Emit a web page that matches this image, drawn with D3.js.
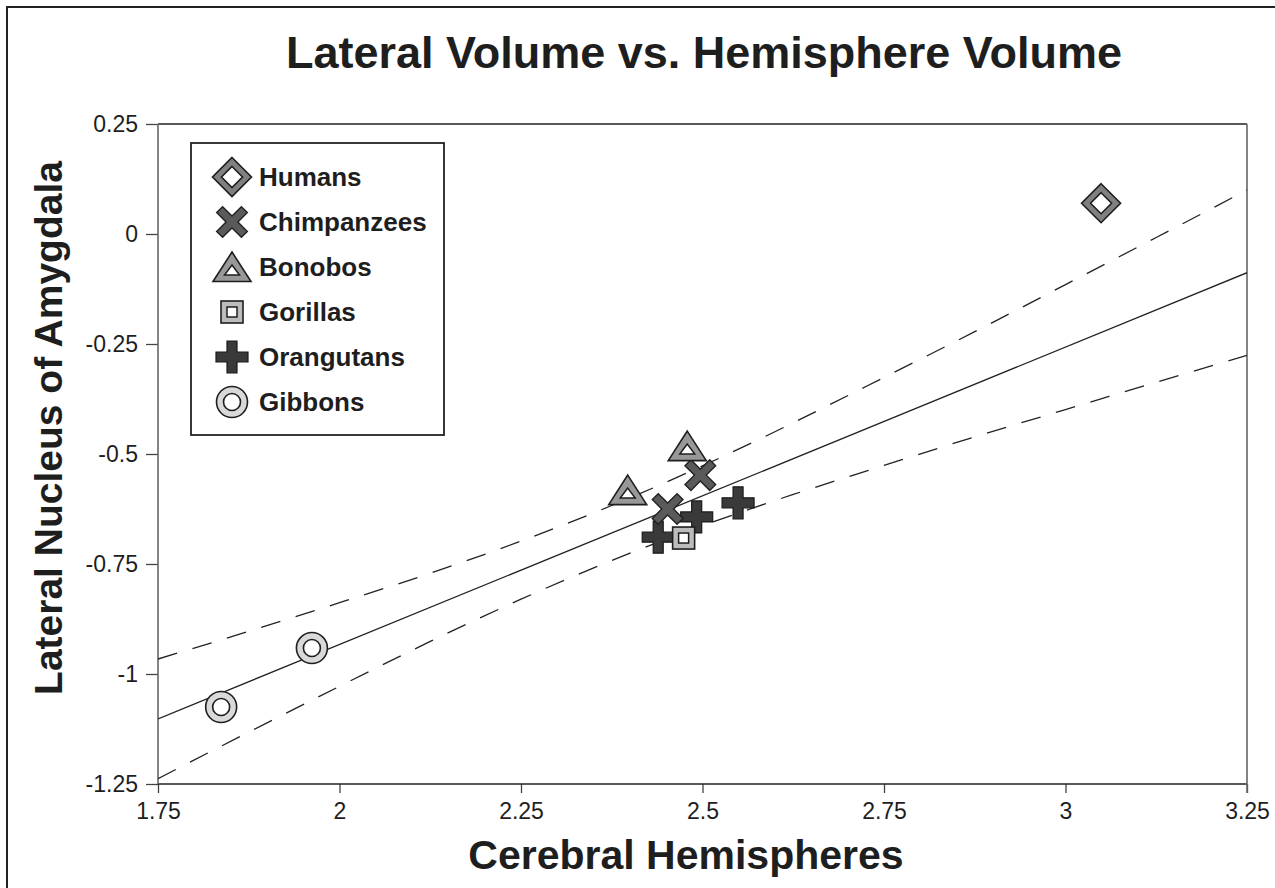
<!DOCTYPE html>
<html>
<head>
<meta charset="utf-8">
<script src="https://cdn.jsdelivr.net/npm/d3@7"></script>
<style>
  html, body { margin: 0; padding: 0; background: #fff; }
  svg { display: block; }
  text { font-family: "Liberation Sans", Arial, Helvetica, sans-serif; fill: #1e1e1e; }
</style>
</head>
<body>
<svg id="chart" width="1275" height="888"></svg>
<script>
// Species means: [cerebral hemispheres, lateral nucleus] (log volumes)
const humans      = [[3.049, 0.070]];
const chimpanzees = [[2.497, -0.548], [2.452, -0.625]];
const bonobos     = [[2.479, -0.482], [2.397, -0.582]];
const gorillas    = [[2.474, -0.691]];
const orangutans  = [[2.439, -0.689], [2.492, -0.643], [2.549, -0.611]];
const gibbons     = [[1.837, -1.075], [1.962, -0.941]];

// Fitted regression line (endpoints at the axis limits)
const fitX = [1.75, 3.25];
const fitY = [-1.102, -0.088];

// 95% confidence band around the fit
const bandX     = [1.75, 1.875, 2.0, 2.125, 2.25, 2.375, 2.5, 2.625, 2.75, 2.875, 3.0, 3.125, 3.25];
const bandUpper = [-0.966, -0.903, -0.838, -0.771, -0.698, -0.617, -0.527, -0.429, -0.326, -0.222, -0.115, -0.008, 0.100];
const bandLower = [-1.238, -1.132, -1.028, -0.926, -0.830, -0.742, -0.663, -0.592, -0.526, -0.461, -0.399, -0.337, -0.276];

const xTicks = [1.75, 2, 2.25, 2.5, 2.75, 3, 3.25];
const yTicks = [0.25, 0, -0.25, -0.5, -0.75, -1, -1.25];

const legendNames = ["Humans", "Chimpanzees", "Bonobos", "Gorillas", "Orangutans", "Gibbons"];

const svg = d3.select("#chart");
const plot = { left: 158, top: 124, right: 1247, bottom: 784 };

const x = d3.scaleLinear().domain([1.75, 3.25]).range([plot.left, plot.right]);
const y = d3.scaleLinear().domain([-1.25, 0.25]).range([plot.bottom, plot.top]);

// outer frame
svg.append("rect")
  .attr("x", 7).attr("y", 7).attr("width", 1290).attr("height", 900)
  .attr("fill", "none").attr("stroke", "#222").attr("stroke-width", 2);

// title
svg.append("text")
  .attr("x", 704).attr("y", 68)
  .attr("text-anchor", "middle")
  .attr("font-size", 45).attr("font-weight", "bold")
  .text("Lateral Volume vs. Hemisphere Volume");

// clip for lines
svg.append("clipPath").attr("id", "plotClip")
  .append("rect")
  .attr("x", plot.left).attr("y", plot.top)
  .attr("width", plot.right - plot.left).attr("height", plot.bottom - plot.top);

// axes
const xAxis = d3.axisBottom(x).tickValues(xTicks).tickSize(9).tickPadding(10)
  .tickFormat(d => String(d));
const yAxis = d3.axisLeft(y).tickValues(yTicks).tickSize(12).tickPadding(8)
  .tickFormat(d => String(d));

const gx = svg.append("g").attr("transform", `translate(0,${plot.bottom})`).call(xAxis);
const gy = svg.append("g").attr("transform", `translate(${plot.left},0)`).call(yAxis);
[gx, gy].forEach(g => {
  g.attr("font-size", 23).attr("font-family", '"Liberation Sans", Arial, sans-serif');
  g.select(".domain").remove();
  g.selectAll(".tick line").attr("stroke", "#444").attr("stroke-width", 1.3);
  g.selectAll(".tick text").attr("font-size", 23).attr("fill", "#222");
});

// plot frame: top/bottom dark, left/right grey
svg.append("line").attr("x1", plot.left).attr("x2", plot.right).attr("y1", plot.top).attr("y2", plot.top)
  .attr("stroke", "#222").attr("stroke-width", 1.5);
svg.append("line").attr("x1", plot.left).attr("x2", plot.right).attr("y1", plot.bottom).attr("y2", plot.bottom)
  .attr("stroke", "#222").attr("stroke-width", 1.5);
svg.append("line").attr("x1", plot.left).attr("x2", plot.left).attr("y1", plot.top).attr("y2", plot.bottom)
  .attr("stroke", "#666").attr("stroke-width", 1.6);
svg.append("line").attr("x1", plot.right).attr("x2", plot.right).attr("y1", plot.top).attr("y2", plot.bottom + 9)
  .attr("stroke", "#666").attr("stroke-width", 1.6);

// axis titles
svg.append("text")
  .attr("x", 686).attr("y", 869)
  .attr("text-anchor", "middle")
  .attr("font-size", 41).attr("font-weight", "bold")
  .text("Cerebral Hemispheres");
svg.append("text")
  .attr("transform", "translate(62,428) rotate(-90)")
  .attr("text-anchor", "middle")
  .attr("font-size", 39).attr("font-weight", "bold")
  .text("Lateral Nucleus of Amygdala");

// fit and confidence band
const lines = svg.append("g").attr("clip-path", "url(#plotClip)");
const lineGen = d3.line().x(d => x(d[0])).y(d => y(d[1]));
lines.append("path")
  .datum(d3.zip(fitX, fitY))
  .attr("d", lineGen)
  .attr("fill", "none").attr("stroke", "#222").attr("stroke-width", 1.3);

const bandGen = d3.line().x(d => x(d[0])).y(d => y(d[1])).curve(d3.curveNatural);
[bandUpper, bandLower].forEach(vals => {
  lines.append("path")
    .datum(d3.zip(bandX, vals))
    .attr("d", bandGen)
    .attr("fill", "none").attr("stroke", "#222").attr("stroke-width", 1.3)
    .attr("stroke-dasharray", "20,16");
});

// marker drawing
const poly = pts => "M" + pts.map(p => p.join(",")).join("L") + "Z";
function plusPts(L, h) {
  return [[-h,-L],[h,-L],[h,-h],[L,-h],[L,h],[h,h],[h,L],[-h,L],[-h,h],[-L,h],[-L,-h],[-h,-h]];
}
function rot45(pts) {
  const c = Math.SQRT1_2;
  return pts.map(([a, b]) => [(a - b) * c, (a + b) * c]);
}

const markers = {
  Humans: g => {
    g.append("path").attr("d", poly([[0,-19.5],[19.5,0],[0,19.5],[-19.5,0]]))
      .attr("fill", "#808080").attr("stroke", "#1e1e1e").attr("stroke-width", 1.6);
    g.append("path").attr("d", poly([[0,-10.5],[10.5,0],[0,10.5],[-10.5,0]]))
      .attr("fill", "#fff").attr("stroke", "#1e1e1e").attr("stroke-width", 1.6);
  },
  Chimpanzees: g => {
    g.append("path").attr("d", poly(rot45(plusPts(17.5, 4.2))))
      .attr("fill", "#5a5a5a").attr("stroke", "#222").attr("stroke-width", 1.4);
  },
  Bonobos: g => {
    g.append("path").attr("d", poly([[0,-15],[19,14.5],[-19,14.5]]))
      .attr("fill", "#989898").attr("stroke", "#1e1e1e").attr("stroke-width", 1.6);
    g.append("path").attr("d", poly([[0,-2],[7.5,8],[-7.5,8]]))
      .attr("fill", "#fff").attr("stroke", "#1e1e1e").attr("stroke-width", 1.5);
  },
  Gorillas: g => {
    g.append("rect").attr("x", -11).attr("y", -11).attr("width", 22).attr("height", 22)
      .attr("fill", "#bcbcbc").attr("stroke", "#1e1e1e").attr("stroke-width", 1.6);
    g.append("rect").attr("x", -5).attr("y", -5).attr("width", 10).attr("height", 10)
      .attr("fill", "#fff").attr("stroke", "#1e1e1e").attr("stroke-width", 1.5);
  },
  Orangutans: g => {
    g.append("path").attr("d", poly(plusPts(16, 5)))
      .attr("fill", "#3a3a3a").attr("stroke", "#1a1a1a").attr("stroke-width", 1.2);
  },
  Gibbons: g => {
    g.append("circle").attr("r", 15.5)
      .attr("fill", "#d9d9d9").attr("stroke", "#1e1e1e").attr("stroke-width", 1.6);
    g.append("circle").attr("r", 8.5)
      .attr("fill", "#fff").attr("stroke", "#1e1e1e").attr("stroke-width", 1.6);
  }
};

const seriesOrder = [
  ["Gibbons", gibbons],
  ["Orangutans", orangutans],
  ["Chimpanzees", chimpanzees],
  ["Bonobos", bonobos],
  ["Gorillas", gorillas],
  ["Humans", humans]
];
const pts = svg.append("g");
seriesOrder.forEach(([name, data]) => {
  pts.selectAll(null).data(data).enter().append("g")
    .attr("transform", d => `translate(${x(d[0])},${y(d[1])})`)
    .each(function () { markers[name](d3.select(this)); });
});

// legend
const legend = svg.append("g");
legend.append("rect")
  .attr("x", 191).attr("y", 143).attr("width", 253).attr("height", 292)
  .attr("fill", "#fff").attr("stroke", "#222").attr("stroke-width", 1.8);
legendNames.forEach((name, i) => {
  const cy = 177 + i * 45;
  const g = legend.append("g").attr("transform", `translate(232,${cy})`);
  markers[name](g);
  legend.append("text")
    .attr("x", 259).attr("y", cy + 9)
    .attr("font-size", 26).attr("font-weight", "bold")
    .text(name);
});
</script>
</body>
</html>
